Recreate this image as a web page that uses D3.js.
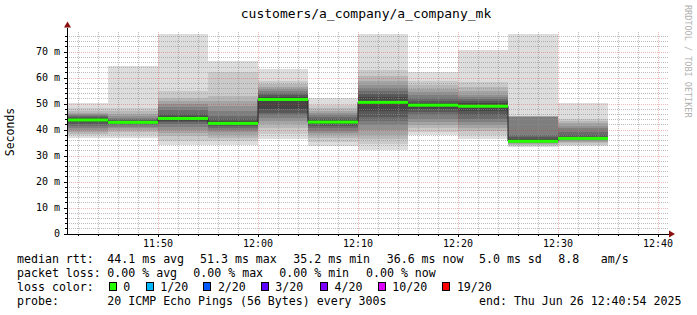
<!DOCTYPE html>
<html>
<head>
<meta charset="utf-8">
<script src="https://cdn.jsdelivr.net/npm/d3@7"></script>
<style>
body { margin: 0; background: #fff; }
text { font-family: "DejaVu Sans Mono", monospace; }
</style>
</head>
<body>
<svg id="chart" width="697" height="315"></svg>
<script>
// --- data ---
var title = "customers/a_company/a_company_mk";
var slotEnds = ["11:45", "11:50", "11:55", "12:00", "12:05", "12:10", "12:15", "12:20", "12:25", "12:30", "12:35"];
// 20 sorted ping rtts (ms) per 5 min slot
var pings = [
  [36.7, 37.9, 38.5, 39.2, 40.0, 40.8, 41.5, 42.2, 42.8, 43.4, 43.9, 44.3, 44.7, 45.1, 45.6, 46.0, 46.4, 47.2, 48.3, 50.3],
  [36.7, 37.8, 39.0, 39.9, 40.6, 41.1, 41.6, 42.0, 42.4, 42.7, 42.9, 43.2, 43.6, 44.0, 44.6, 45.3, 46.1, 47.0, 48.5, 64.4],
  [34.2, 35.8, 37.5, 38.8, 40.0, 41.0, 42.0, 42.8, 43.5, 44.0, 44.6, 45.3, 46.2, 47.5, 48.8, 50.0, 51.0, 52.2, 54.8, 77.0],
  [34.2, 35.5, 36.8, 38.0, 39.0, 40.0, 40.7, 41.3, 41.8, 42.2, 42.6, 43.2, 44.0, 45.2, 47.1, 49.0, 51.0, 52.8, 62.3, 66.3],
  [36.5, 38.5, 40.5, 42.0, 43.2, 44.5, 45.5, 46.5, 48.0, 51.0, 51.6, 52.6, 53.2, 54.0, 54.8, 55.6, 56.5, 57.5, 58.6, 63.5],
  [33.5, 35.4, 36.8, 38.0, 38.6, 39.5, 40.5, 41.4, 42.2, 42.7, 43.1, 43.6, 44.2, 44.9, 45.6, 46.4, 47.3, 48.4, 49.5, 52.2],
  [32.2, 34.5, 36.5, 38.1, 40.0, 41.8, 43.2, 45.0, 47.0, 49.8, 51.2, 52.5, 53.6, 54.8, 56.0, 57.3, 58.8, 60.5, 63.1, 77.0],
  [37.9, 39.2, 40.6, 41.8, 43.0, 44.2, 45.5, 46.8, 48.0, 49.2, 49.7, 50.3, 51.2, 52.2, 53.2, 54.3, 55.5, 57.0, 58.6, 62.1],
  [36.2, 38.0, 39.4, 40.7, 41.9, 43.0, 44.2, 45.5, 47.0, 48.6, 49.4, 50.2, 51.0, 51.8, 52.6, 53.5, 54.8, 56.5, 58.5, 70.8],
  [33.4, 33.8, 34.2, 34.5, 34.8, 35.0, 35.1, 35.2, 35.3, 35.4, 35.6, 36.2, 37.0, 38.0, 44.8, 45.0, 45.1, 45.2, 45.3, 77.0],
  [33.5, 34.2, 34.8, 35.3, 35.7, 36.0, 36.2, 36.4, 36.5, 36.6, 36.7, 37.0, 37.8, 39.0, 40.6, 41.5, 42.5, 43.5, 44.2, 50.3]
];
var medians = [43.7, 42.8, 44.3, 42.4, 51.6, 42.9, 50.5, 49.4, 49.0, 35.5, 36.6];
var losses = [0, 0, 0, 0, 0, 0, 0, 0, 0, 0, 0];

var rttStatValues = [44.1, 51.3, 35.2, 36.6];
var rttStatNames = ["avg", "max", "min", "now"];
var sdValue = 5.0;
var amsValue = 8.8;
var lossStatValues = [0, 0, 0, 0];
var lossLevels = [0, 1, 2, 3, 4, 10, 19];
var lossColors = ["#26ff00", "#00b8ff", "#0059ff", "#5e00ff", "#7e00ff", "#dd00ff", "#ff0000"];
var probeText = "20 ICMP Echo Pings (56 Bytes) every 300s";
var endText = "end: Thu Jun 26 12:40:54 2025";

var startTime = new Date(Date.UTC(2025, 5, 26, 11, 40, 54));
var endTime = new Date(Date.UTC(2025, 5, 26, 12, 40, 54));
var step = 300 * 1000;
var yMax = 77;

var smokeping = function() {
    var svg = d3.select('#chart');
    var pL = 67, pR = 667, pT = 33.5, pB = 233.5;

    function parseT(s) {
        var p = s.split(':');
        return new Date(Date.UTC(2025, 5, 26, +p[0], +p[1], 0));
    }

    var x = d3.scaleUtc().domain([startTime, endTime]).range([pL, pR]);
    var y = d3.scaleLinear().domain([0, yMax]).range([pB, pT]);

    svg.append('rect').attr('width', 697).attr('height', 315).attr('fill', '#fff');

    var slots = slotEnds.map(function(s, i) {
        var e = parseT(s);
        var st = new Date(Math.max(e - step, startTime));
        return {start: st, end: e, p: pings[i], med: medians[i], loss: losses[i]};
    });

    // smoke: outer pairs light, inner pairs dark
    var half = 10;
    var smoke = svg.append('g').attr('shape-rendering', 'crispEdges');
    slots.forEach(function(d) {
        for (var i = 1; i <= half; i++) {
            var c = Math.floor(190 / half * (half - i)) + 50;
            var lo = d.p[i - 1], hi = d.p[20 - i];
            smoke.append('rect')
                .attr('x', x(d.start))
                .attr('width', x(d.end) - x(d.start))
                .attr('y', y(hi))
                .attr('height', Math.max(0, y(lo) - y(hi)))
                .attr('fill', d3.rgb(c, c, c));
        }
    });

    // grid
    var grid = svg.append('g').attr('shape-rendering', 'crispEdges');
    d3.range(2, yMax, 2).forEach(function(v) {
        var major = v % 10 === 0;
        grid.append('line')
            .attr('x1', pL).attr('x2', pR + 2)
            .attr('y1', Math.round(y(v)) + 0.5).attr('y2', Math.round(y(v)) + 0.5)
            .attr('stroke', major ? '#e03030' : '#909090')
            .attr('stroke-opacity', major ? 0.35 : 0.6)
            .attr('stroke-dasharray', '1,1');
    });
    x.ticks(d3.utcMinute.every(2)).forEach(function(t) {
        var major = t.getUTCMinutes() % 10 === 0;
        grid.append('line')
            .attr('x1', Math.round(x(t)) + 0.5).attr('x2', Math.round(x(t)) + 0.5)
            .attr('y1', pT - 2).attr('y2', pB)
            .attr('stroke', major ? '#e03030' : '#909090')
            .attr('stroke-opacity', major ? 0.35 : 0.6)
            .attr('stroke-dasharray', '1,1');
    });

    // median step line
    var medPts = [];
    slots.forEach(function(d) {
        medPts.push([x(d.start), y(d.med)]);
        medPts.push([x(d.end), y(d.med)]);
    });
    svg.append('path')
        .attr('d', d3.line()(medPts))
        .attr('fill', 'none')
        .attr('stroke', '#202020')
        .attr('stroke-width', 1);

    // loss coloured median band
    function lossColor(l) {
        var idx = 0;
        lossLevels.forEach(function(lv, i) { if (l >= lv) idx = i; });
        return lossColors[idx];
    }
    svg.append('g').selectAll('rect').data(slots).join('rect')
        .attr('x', function(d) { return x(d.start); })
        .attr('width', function(d) { return x(d.end) - x(d.start); })
        .attr('y', function(d) { return y(d.med) - 1.5; })
        .attr('height', 3)
        .attr('fill', function(d) { return lossColor(d.loss); });

    // axes
    var ax = svg.append('g').attr('shape-rendering', 'crispEdges');
    ax.append('line').attr('x1', pL + 0.5).attr('x2', pL + 0.5).attr('y1', pT - 6).attr('y2', pB + 1).attr('stroke', '#000');
    ax.append('line').attr('x1', pL - 3).attr('x2', pR + 4).attr('y1', pB + 0.5).attr('y2', pB + 0.5).attr('stroke', '#000');
    d3.range(0, yMax, 2).forEach(function(v) {
        var yy = Math.round(y(v)) + 0.5;
        ax.append('line').attr('x1', pL - (v % 10 === 0 ? 3 : 2)).attr('x2', pL)
            .attr('y1', yy).attr('y2', yy).attr('stroke', '#000');
    });
    x.ticks(d3.utcMinute.every(2)).forEach(function(t) {
        var xx = Math.round(x(t)) + 0.5;
        ax.append('line').attr('x1', xx).attr('x2', xx)
            .attr('y1', pB).attr('y2', pB + (t.getUTCMinutes() % 10 === 0 ? 3 : 2))
            .attr('stroke', '#000');
    });
    svg.append('path').attr('d', d3.line()([[pL - 3, pT - 6], [pL + 4, pT - 6], [pL + 0.5, pT - 12]]))
        .attr('fill', '#8b1010');
    svg.append('path').attr('d', d3.line()([[pR + 2, pB - 3], [pR + 2, pB + 4], [pR + 8, pB + 0.5]]))
        .attr('fill', '#8b1010');

    // tick labels
    svg.append('g').selectAll('text').data(d3.range(0, yMax, 10)).join('text')
        .attr('x', 60).attr('y', function(v) { return y(v) + 3.5; })
        .attr('text-anchor', 'end')
        .attr('font-size', 10)
        .text(function(v) { return v === 0 ? '0' : v + ' m'; });
    svg.append('g').selectAll('text').data(x.ticks(d3.utcMinute.every(10))).join('text')
        .attr('x', function(t) { return x(t); }).attr('y', pB + 13)
        .attr('text-anchor', 'middle')
        .attr('font-size', 10)
        .text(d3.utcFormat('%H:%M'));

    // titles
    svg.append('text').attr('x', 366).attr('y', 18).attr('text-anchor', 'middle')
        .attr('font-size', 13).text(title);
    svg.append('text').attr('transform', 'translate(14,132) rotate(-90)')
        .attr('text-anchor', 'middle').attr('font-size', 11.5).text('Seconds');
    svg.append('text').attr('transform', 'translate(685,5) rotate(90)')
        .attr('font-size', 8.5).attr('fill', '#b0b0b0').text('RRDTOOL / TOBI OETIKER');

    // legend
    var lg = svg.append('g').attr('font-size', 11.6);
    function put(xx, yy, s) { lg.append('text').attr('x', xx).attr('y', yy).attr('xml:space', 'preserve').text(s); }
    var r1 = 262.5, r2 = 276.5, r3 = 290.5, r4 = 304.5;
    put(17, r1, 'median rtt:');
    var rttX = [107.3, 200, 293.3, 386.7];
    rttStatValues.forEach(function(v, i) { put(rttX[i], r1, v.toFixed(1) + ' ms ' + rttStatNames[i]); });
    put(479, r1, sdValue.toFixed(1) + ' ms sd');
    put(558.3, r1, amsValue.toFixed(1));
    put(600.7, r1, 'am/s');
    put(17, r2, 'packet loss:');
    var lossX = [107.3, 193.3, 279.3, 366];
    lossStatValues.forEach(function(v, i) { put(lossX[i], r2, v.toFixed(2) + ' % ' + rttStatNames[i]); });
    put(17, r3, 'loss color:');
    var boxX = [108.7, 145.7, 203.3, 260.7, 320, 377.7, 442.3];
    lossLevels.forEach(function(lv, i) {
        lg.append('rect').attr('x', boxX[i] + 0.5).attr('y', r3 - 8.5).attr('width', 7).attr('height', 8)
            .attr('fill', lossColors[i]).attr('stroke', '#000').attr('stroke-width', 1)
            .attr('shape-rendering', 'crispEdges');
        put(boxX[i] + 14.6, r3, lv === 0 ? '0' : lv + '/20');
    });
    put(17, r4, 'probe:');
    put(107.3, r4, probeText);
    put(479, r4, endText);
};

smokeping();
</script>
</body>
</html>
